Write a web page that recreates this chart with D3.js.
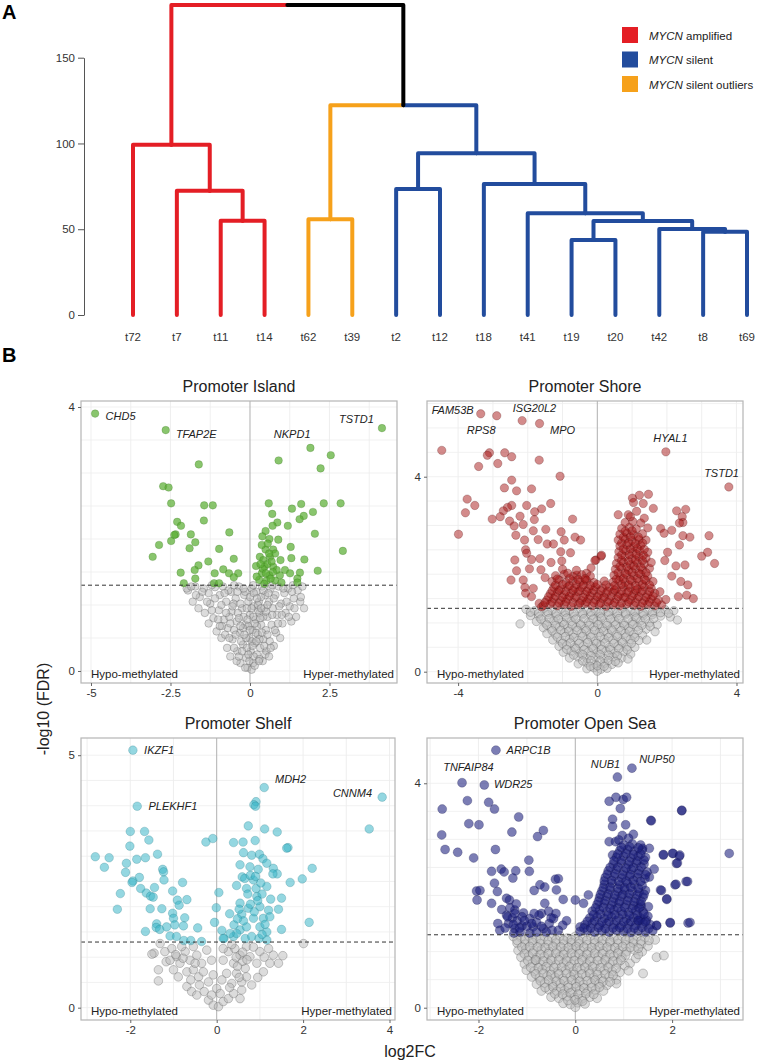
<!DOCTYPE html>
<html><head><meta charset="utf-8">
<script src="https://cdn.jsdelivr.net/npm/d3@7/dist/d3.min.js"></script>
<style>body{margin:0;background:#fff}svg{display:block}text{font-family:Arial,"Liberation Sans",sans-serif}</style>
</head><body><svg id="c" width="758" height="1063"></svg>
<script>
// ---------------- DATA ----------------
const leaves = ["t72","t7","t11","t14","t62","t39","t2","t12","t18","t41","t19","t20","t42","t8","t69"];
const leafGroup = ["amp","amp","amp","amp","out","out","sil","sil","sil","sil","sil","sil","sil","sil","sil"];
// [childA, childB, height]; nodes 0-14 are leaves, merges are numbered from 15
const merges = [[2,3,55.0],[1,15,72.5],[0,16,99.3],[4,5,55.8],[6,7,73.5],[10,11,43.7],[13,14,48.6],[12,21,50.2],[20,22,54.8],[9,23,59.3],[8,24,76.4],[19,25,94.3],[18,26,122.3],[17,27,180.7]];
const dendroTicks = [0,50,100,150];
const legendGroups = ["amp","sil","out"];
const legendLabels = [" amplified"," silent"," silent outliers"];

const panelTitles = ["Promoter Island","Promoter Shore","Promoter Shelf","Promoter Open Sea"];
const xTickVals = [[-5,-2.5,0,2.5],[-4,0,4],[-2,0,2,4],[-2,0,2]];
const yTickVals = [[0,4],[0,4],[0,5],[0,4]];
const fdrCut = 1.30;

const islandSig = [[-4.87,3.90],[-2.65,3.65],[-1.61,3.13],[-2.73,2.80],[-2.56,2.78],[-2.48,2.54],[-1.44,2.51],[-1.17,2.51],[-1.45,2.28],[-2.29,2.26],[-2.17,2.20],[-2.34,2.07],[-2.38,2.06],[-1.86,2.07],[-0.65,2.10],[-2.48,1.97],[-1.72,1.95],[-2.86,1.91],[-1.90,1.86],[-0.97,1.85],[-3.06,1.73],[-1.31,1.66],[-0.51,1.70],[-1.62,1.60],[-1.74,1.53],[-2.18,1.49],[-0.84,1.54],[-1.11,1.48],[-0.66,1.48],[-0.37,1.48],[-0.51,1.42],[-1.72,1.40],[-2.08,1.33],[-1.13,1.33],[-0.97,1.33],
[0.90,3.19],[1.90,3.38],[2.54,3.27],[2.22,3.07],[4.15,3.68],[0.59,2.54],[1.32,2.46],[1.61,2.53],[2.32,2.54],[2.85,2.54],[1.98,2.41],[1.69,2.35],[1.56,2.30],[0.70,2.38],[0.86,2.25],[0.71,2.20],[1.19,2.20],[0.49,2.12],[2.04,2.08],[0.39,2.04],[0.61,2.00],[0.89,1.99],[1.28,1.88],[2.92,1.82],[0.49,1.84],[0.73,1.84],[0.31,1.73],[0.63,1.73],[1.30,1.71],[1.71,1.69],[0.96,1.68],[0.19,1.59],[0.46,1.58],[0.73,1.58],[1.10,1.53],[1.57,1.49],[2.13,1.52],[0.37,1.48],[0.61,1.45],[0.94,1.45],[1.26,1.48],[1.49,1.40],[0.29,1.38],[0.52,1.37],[0.79,1.37],[0.99,1.34],[1.49,1.34],[0.37,1.91],[0.56,1.93],[0.79,1.78],[0.42,1.68],[0.84,1.53],[0.21,1.43],[0.55,1.62],[0.68,1.66],[0.40,1.55],[0.65,1.40],[0.45,1.32],[0.60,1.78],[0.50,1.48],[0.72,1.50],[0.33,1.62]];
const islandGray = [[-1.95,1.22],[-1.72,1.28],[-1.58,1.12],[-1.8,1.05],[-1.45,1.25],[-1.3,1.18],[-1.62,0.95],[-1.42,0.88],[-1.25,1.02],[-1.1,1.27],[-1.15,0.8],[-1.3,0.72],[-0.95,1.15],[-0.98,0.92],[-1.05,0.6],[-0.85,1.28],[-0.82,0.78],[-0.9,0.5],[-0.75,1.05],[-0.7,0.65],[-0.72,0.35],[-0.6,1.2],[-0.58,0.9],[-0.55,0.48],[-0.62,0.22],[-0.45,1.1],[-0.42,0.75],[-0.4,0.3],[-0.35,1.28],[-0.32,0.58],[-0.3,0.12],[-0.25,0.95],[-0.22,0.4],[-0.18,1.15],[-0.15,0.7],[-0.12,0.2],[-0.08,0.05],[-0.05,1.05],[-0.02,0.5],[0.0,0.85],[0.02,0.3],[0.05,1.25],[0.08,0.62],[0.1,0.12],[0.12,0.98],[0.15,0.42],[0.18,0.78],[0.2,1.2],[0.22,0.25],[0.25,0.55],[0.28,1.05],[0.3,0.88],[0.32,0.35],[0.35,0.7],[0.38,1.28],[0.4,0.15],[0.42,0.48],[0.45,0.95],[0.48,1.15],[0.5,0.62],[0.52,0.3],[0.55,0.82],[0.6,1.05],[0.62,0.45],[0.65,1.25],[0.68,0.7],[0.72,0.95],[0.75,0.38],[0.8,1.15],[0.82,0.58],[0.85,0.85],[0.9,1.28],[0.95,0.5],[0.98,1.02],[1.02,0.72],[1.08,1.18],[1.12,0.88],[1.2,1.25],[1.25,0.98],[1.3,0.75],[1.38,1.1],[1.45,0.82],[1.5,1.22],[1.58,1.05],[1.7,0.95],[1.65,1.28],[1.35,1.3],[-1.2,1.3],[-0.5,1.3],[0.1,1.3],[0.7,1.3],[-0.5,0.62],[-0.38,0.88],[-0.28,0.45],[-0.2,0.82],[-0.1,0.35],[-0.05,0.68],[0.05,0.45],[0.12,0.22],[0.18,0.58],[0.25,0.92],[0.3,0.48],[0.35,1.12],[0.42,0.82],[0.48,0.25],[0.55,1.0],[0.6,0.22],[-0.65,0.82],[-0.68,1.22],[-0.78,0.55],[-0.88,0.68],[-1.0,0.78],[-0.52,1.02],[-0.15,1.2],[0.0,1.12],[-0.02,0.15],[0.05,0.02],[-0.15,0.05],[0.15,0.08],[-0.42,0.15],[0.3,0.18],[0.22,0.68],[-0.35,0.22],[-1.99,1.25],[1.6,1.12],[1.4,0.95]];
const islandGray2 = [[-1.5,1.2],[-1.35,1.05],[-1.2,0.92],[-1.1,1.1],[-0.95,0.68],[-0.9,1.0],[-0.8,1.18],[-0.75,0.88],[-0.65,0.5],[-0.62,0.72],[-0.55,0.98],[-0.5,0.35],[-0.45,0.55],[-0.4,1.2],[-0.35,0.8],[-0.3,1.02],[-0.25,0.3],[-0.22,0.65],[-0.2,1.25],[-0.12,0.5],[-0.1,0.95],[-0.05,0.25],[0.0,0.62],[0.05,0.95],[0.08,0.38],[0.12,1.18],[0.15,0.72],[0.2,0.45],[0.25,1.0],[0.28,0.15],[0.32,0.8],[0.38,0.58],[0.42,1.22],[0.45,0.38],[0.5,0.9],[0.55,0.55],[0.58,1.18],[0.65,0.35],[0.7,0.85],[0.75,1.1],[0.78,0.62],[0.88,0.72],[0.92,0.98],[1.0,0.85],[1.05,1.25],[1.15,1.05],[1.22,0.82],[1.32,1.2],[-1.7,1.15],[-1.85,1.28],[-0.18,0.55],[0.1,0.82],[-0.3,0.68],[0.22,1.1],[-0.08,0.78],[0.35,0.95]];
const islandLabels = [["CHD5",-4.54,3.80],["TFAP2E",-2.33,3.53],["NKPD1",0.75,3.53],["TSTD1",2.80,3.76]];

const shoreSig = [[-3.35,5.29],[-2.89,5.25],[-2.16,5.15],[-1.66,5.09],[-4.47,4.54],[-3.10,4.49],[-3.16,4.44],[-2.66,4.49],[-2.46,4.41],[-3.41,4.21],[-2.86,4.27],[-1.67,4.34],[-1.07,4.01],[-2.46,3.93],[-2.67,3.77],[-2.32,3.71],[-1.89,3.75],[-3.74,3.54],[-3.52,3.41],[-3.79,3.26],[-2.46,3.41],[-2.58,3.37],[-2.70,3.30],[-2.03,3.41],[-1.60,3.34],[-1.34,3.45],[-1.80,3.28],[-3.02,3.13],[-2.79,3.18],[-2.52,3.09],[-2.22,3.19],[-0.71,3.13],[-1.81,3.12],[-2.39,2.99],[-2.13,3.02],[-3.99,2.82],[-2.34,2.80],[-1.84,2.89],[-1.48,2.92],[-1.04,2.87],[-2.09,2.70],[-1.70,2.71],[-1.44,2.62],[-0.64,2.76],[-0.48,2.70],[-0.95,2.70],[-1.26,2.62],[-2.06,2.50],[-2.03,2.43],[-1.05,2.46],[-0.77,2.44],[0.11,2.37],[-0.04,2.29],[-2.37,2.29],[-1.89,2.30],[-1.65,2.32],[-1.33,2.24],[-1.02,2.27],[-2.32,2.07],[-1.95,2.11],[-1.62,2.09],[-1.50,1.93],[-2.48,1.88],[-2.13,1.88],[-2.08,1.73],[-2.06,1.61],[-1.84,1.71],[-1.89,1.54],[-1.67,1.40],[-1.60,1.33],[-0.31,2.02],[-0.18,2.13],[-0.35,1.88],[-0.59,1.98],
[1.97,4.51],[3.78,3.79],[1.01,3.56],[1.21,3.62],[1.47,3.64],[1.32,3.45],[1.04,3.47],[0.60,3.22],[0.89,3.22],[1.13,3.29],[1.61,3.35],[2.28,3.30],[2.54,3.33],[2.44,3.18],[2.46,3.06],[2.36,3.05],[2.14,2.90],[1.82,2.94],[1.92,2.84],[2.66,2.76],[2.46,2.79],[3.21,2.79],[2.36,2.60],[2.02,2.45],[3.00,2.37],[3.17,2.45],[3.37,2.22],[-0.07,2.28],[0.12,2.39],[1.94,2.28],[2.26,2.17],[2.14,1.96],[2.52,2.19],[2.40,1.85],[2.60,1.78],[2.33,1.54],[2.57,1.57],[2.76,1.50],[1.97,1.48],[1.80,1.64]];
const shoreDense = [[-1.55,1.36],[-1.35,1.39],[-1.15,1.35],[-0.95,1.38],[-0.75,1.34],[-0.55,1.37],[-0.35,1.40],[-0.15,1.35],[0.05,1.38],[0.25,1.34],[0.45,1.37],[0.65,1.35],[0.85,1.39],[1.05,1.36],[1.25,1.34],[1.45,1.38],[1.65,1.35],[1.85,1.37],
[-1.45,1.47],[-1.25,1.5],[-1.05,1.46],[-0.85,1.49],[-0.65,1.51],[-0.45,1.46],[-0.25,1.49],[-0.05,1.47],[0.15,1.5],[0.35,1.46],[0.55,1.49],[0.75,1.52],[0.95,1.47],[1.15,1.5],[1.35,1.46],[1.55,1.49],[1.75,1.47],
[-1.35,1.6],[-1.15,1.63],[-0.95,1.58],[-0.75,1.61],[-0.55,1.64],[-0.35,1.59],[-0.15,1.62],[0.05,1.58],[0.25,1.61],[0.45,1.63],[0.65,1.59],[0.85,1.62],[1.05,1.6],[1.25,1.63],[1.45,1.58],[1.65,1.61],
[-1.25,1.73],[-1.05,1.7],[-0.85,1.74],[-0.65,1.71],[-0.45,1.73],[-0.25,1.7],[-0.05,1.74],[0.15,1.71],[0.35,1.73],[0.55,1.7],[0.75,1.74],[0.95,1.72],[1.15,1.7],[1.35,1.74],[1.55,1.71],
[-1.3,1.85],[-1.1,1.88],[-0.9,1.83],[-0.7,1.86],[-0.5,1.84],[-0.3,1.87],[-0.1,1.83],[0.2,1.86],[0.45,1.84],[0.62,1.87],[0.8,1.83],[1.0,1.86],[1.2,1.84],[1.4,1.87],[1.6,1.85],
[-1.2,1.97],[-0.95,2.0],[-0.7,1.96],[-0.45,1.99],[-0.2,1.96],[0.48,1.98],[0.66,1.95],[0.85,1.99],[1.05,1.97],[1.25,2.0],[1.45,1.96],
[-1.0,2.1],[-0.6,2.08],[0.52,2.1],[0.7,2.12],[0.9,2.08],[1.1,2.11],[1.3,2.09],[1.5,2.12],
[0.55,2.22],[0.75,2.24],[0.95,2.2],[1.15,2.23],[1.35,2.21],[1.55,2.24],
[0.6,2.34],[0.8,2.36],[1.0,2.32],[1.2,2.35],[1.4,2.33],
[0.62,2.46],[0.82,2.48],[1.02,2.45],[1.22,2.47],[1.45,2.45],
[0.65,2.58],[0.85,2.6],[1.05,2.57],[1.25,2.59],
[0.6,2.7],[0.8,2.72],[1.0,2.69],[1.2,2.71],[1.4,2.7],
[0.65,2.82],[0.85,2.84],[1.05,2.81],[1.3,2.83],
[0.7,2.94],[0.92,2.96],[1.12,2.93],[1.45,2.95],
[0.8,3.06],[1.02,3.08],[1.25,3.05],[0.95,3.18],[1.35,3.15],
[-1.5,1.42],[-1.3,1.43],[-1.1,1.41],[-0.9,1.43],[-0.7,1.42],[-0.5,1.41],[-0.3,1.43],[-0.1,1.42],[0.1,1.41],[0.3,1.43],[0.5,1.42],[0.7,1.41],[0.9,1.43],[1.1,1.42],[1.3,1.41],[1.5,1.43],[1.7,1.42],
[-1.4,1.54],[-1.2,1.55],[-1.0,1.53],[-0.8,1.55],[-0.6,1.54],[-0.4,1.53],[-0.2,1.55],[0.0,1.54],[0.2,1.53],[0.4,1.55],[0.6,1.54],[0.8,1.53],[1.0,1.55],[1.2,1.54],[1.4,1.53],[1.6,1.55],
[-1.3,1.66],[-1.1,1.67],[-0.9,1.65],[-0.7,1.67],[-0.5,1.66],[-0.3,1.65],[-0.1,1.67],[0.1,1.66],[0.3,1.65],[0.5,1.67],[0.7,1.66],[0.9,1.65],[1.1,1.67],[1.3,1.66],[1.5,1.65],
[-1.2,1.78],[-1.0,1.79],[-0.8,1.77],[-0.6,1.79],[-0.4,1.78],[-0.2,1.77],[0.0,1.79],[0.25,1.78],[0.5,1.77],[0.7,1.79],[0.9,1.78],[1.1,1.77],[1.3,1.79],[1.5,1.78],
[-1.15,1.9],[-0.8,1.91],[-0.55,1.89],[-0.35,1.91],[0.55,1.9],[0.75,1.91],[0.95,1.89],[1.15,1.91],[1.35,1.9],
[-0.85,2.02],[0.6,2.03],[0.8,2.02],[1.0,2.04],[1.2,2.02],[1.4,2.03],
[0.65,2.16],[0.85,2.15],[1.05,2.17],[1.25,2.15],[0.7,2.28],[0.9,2.27],[1.1,2.29],[1.3,2.28],[0.7,2.4],[0.92,2.4],[1.12,2.41],[1.32,2.39],[0.75,2.52],[0.95,2.52],[1.15,2.53],[1.35,2.51],[0.7,2.64],[0.9,2.65],[1.1,2.63],[1.3,2.64],[0.75,2.76],[0.95,2.77],[1.18,2.76],[0.8,2.88],[1.0,2.89]];
const shoreGray = [[-2.05,1.28],[-1.8,1.25],[-1.55,1.29],[-1.3,1.26],[-1.05,1.28],[-0.8,1.25],[-0.55,1.29],[-0.3,1.27],[-0.05,1.25],[0.2,1.28],[0.45,1.26],[0.7,1.29],[0.95,1.25],[1.2,1.28],[1.45,1.26],[1.7,1.29],[1.95,1.27],[2.2,1.25],
[-1.92,1.15],[-1.68,1.13],[-1.42,1.17],[-1.18,1.14],[-0.92,1.16],[-0.68,1.13],[-0.42,1.17],[-0.18,1.15],[0.08,1.13],[0.32,1.16],[0.58,1.14],[0.82,1.17],[1.08,1.13],[1.32,1.15],[1.58,1.17],[1.82,1.14],[2.1,1.12],
[-2.22,0.98],[-1.75,1.03],[-1.5,1.0],[-1.25,1.04],[-1.0,1.01],[-0.75,1.03],[-0.5,0.99],[-0.25,1.02],[0.0,1.04],[0.25,1.0],[0.5,1.03],[0.75,0.99],[1.0,1.02],[1.25,1.04],[1.5,1.0],[1.72,0.96],[2.3,1.06],
[-1.55,0.9],[-1.32,0.88],[-1.08,0.92],[-0.85,0.89],[-0.6,0.91],[-0.35,0.88],[-0.1,0.92],[0.15,0.9],[0.4,0.88],[0.65,0.91],[0.9,0.89],[1.15,0.92],[1.4,0.87],[1.66,0.82],
[-1.45,0.78],[-1.2,0.76],[-0.95,0.8],[-0.7,0.77],[-0.45,0.79],[-0.2,0.76],[0.05,0.8],[0.3,0.78],[0.55,0.76],[0.8,0.79],[1.05,0.77],[1.3,0.75],
[-1.28,0.65],[-1.05,0.63],[-0.8,0.67],[-0.55,0.64],[-0.3,0.66],[-0.05,0.63],[0.2,0.67],[0.45,0.65],[0.7,0.63],[0.95,0.66],[1.2,0.64],[1.42,0.65],
[-1.1,0.52],[-0.88,0.54],[-0.65,0.5],[-0.4,0.53],[-0.15,0.51],[0.1,0.54],[0.35,0.5],[0.6,0.53],[0.85,0.51],[1.08,0.5],
[-0.98,0.4],[-0.75,0.42],[-0.5,0.38],[-0.25,0.41],[0.0,0.39],[0.25,0.42],[0.5,0.38],[0.75,0.41],[0.96,0.36],
[-0.8,0.28],[-0.55,0.3],[-0.3,0.27],[-0.05,0.29],[0.2,0.27],[0.45,0.3],[0.7,0.28],[0.88,0.26],
[-0.55,0.16],[-0.3,0.18],[-0.05,0.15],[0.2,0.17],[0.42,0.15],[0.6,0.18],
[-0.3,0.06],[-0.1,0.08],[0.1,0.05],[0.28,0.07],[0.0,0.01]];
const shoreGray2 = [[-1.92,1.22],[-1.68,1.2],[-1.42,1.22],[-1.18,1.2],[-0.92,1.22],[-0.68,1.21],[-0.42,1.2],[-0.18,1.22],[0.08,1.2],[0.32,1.22],[0.58,1.21],[0.82,1.2],[1.08,1.22],[1.32,1.2],[1.58,1.22],[1.82,1.21],[2.05,1.2],
[-1.62,1.08],[-1.38,1.09],[-1.12,1.08],[-0.88,1.1],[-0.62,1.08],[-0.38,1.09],[-0.12,1.08],[0.12,1.1],[0.38,1.08],[0.62,1.09],[0.88,1.08],[1.12,1.1],[1.38,1.08],[1.62,1.09],
[-1.45,0.96],[-1.2,0.95],[-0.95,0.97],[-0.72,0.95],[-0.48,0.96],[-0.22,0.95],[0.02,0.97],[0.28,0.95],[0.52,0.96],[0.78,0.95],[1.02,0.97],[1.28,0.95],[1.52,0.93],
[-1.3,0.84],[-1.05,0.85],[-0.82,0.83],[-0.58,0.85],[-0.32,0.84],[-0.08,0.85],[0.18,0.83],[0.42,0.85],[0.68,0.84],[0.92,0.83],[1.18,0.85],
[-1.15,0.71],[-0.92,0.72],[-0.68,0.7],[-0.42,0.72],[-0.18,0.71],[0.08,0.72],[0.32,0.7],[0.58,0.72],[0.82,0.71],[1.08,0.7],
[-1.0,0.58],[-0.78,0.59],[-0.52,0.58],[-0.28,0.6],[-0.02,0.58],[0.22,0.59],[0.48,0.58],[0.72,0.6],[0.98,0.58],
[-0.88,0.46],[-0.62,0.47],[-0.38,0.45],[-0.12,0.47],[0.12,0.46],[0.38,0.45],[0.62,0.47],[0.86,0.45],
[-0.68,0.34],[-0.42,0.35],[-0.18,0.33],[0.08,0.35],[0.32,0.34],[0.58,0.33],
[-0.42,0.22],[-0.18,0.23],[0.08,0.22],[0.32,0.23],[0.52,0.21],
[-0.2,0.11],[0.0,0.12],[0.2,0.11]];
const shoreLabels = [["FAM53B",-4.76,5.29],["ISG20L2",-2.43,5.33],["RPS8",-3.75,4.88],["MPO",-1.36,4.88],["HYAL1",1.61,4.72],["TSTD1",3.07,4.00]];

const shelfSig = [[-1.94,5.10],[-1.84,3.99],[1.10,4.36],[0.91,4.08],[0.86,4.02],[0.90,3.99],[3.83,4.17],[3.53,3.54],[0.73,3.60],[1.11,3.54],[1.40,3.48],[-2.00,3.49],[-1.67,3.49],[-1.57,3.32],[-2.01,3.20],[-2.81,2.99],[-2.49,2.97],[-2.60,2.78],[-2.09,2.86],[-1.85,2.94],[-1.65,2.97],[-1.37,3.04],[-2.11,2.68],[-1.94,2.51],[-1.79,2.58],[-1.96,2.48],[-1.25,2.74],[-1.23,2.69],[-1.22,2.53],[-1.76,2.36],[-1.44,2.38],[-0.79,2.48],[-2.23,2.26],[-1.63,2.27],[-1.53,2.21],[-1.47,2.19],[-2.30,1.95],[-1.54,1.96],[-1.27,1.96],[-1.02,2.31],[-0.91,2.13],[-0.69,2.14],[-0.87,2.03],[-1.02,1.87],[-1.00,1.77],[-0.74,1.78],[-0.97,1.64],[-0.77,1.62],[-0.44,1.58],[-1.39,1.66],[-1.40,1.59],[-1.65,1.51],[-1.16,1.60],[-1.32,1.55],[-1.08,1.42],[-0.93,1.41],[-0.76,1.33],[-0.60,1.33],[-0.35,1.31],[-0.25,3.28],[-0.09,3.35],[0.05,2.28],[-0.01,1.98],[-0.05,1.69],[0.12,1.53],[0.17,1.37],
[0.39,3.27],[0.61,3.28],[0.89,3.31],[0.62,3.07],[0.81,3.02],[0.99,3.04],[1.07,2.95],[1.16,2.86],[0.54,2.83],[0.77,2.79],[0.96,2.74],[1.31,2.76],[1.40,2.65],[1.30,2.65],[0.59,2.59],[0.65,2.56],[0.85,2.53],[1.70,2.48],[1.98,2.55],[2.21,2.76],[1.65,3.17],[1.62,3.16],[0.46,2.42],[0.69,2.36],[0.91,2.36],[1.16,2.40],[0.72,2.25],[0.93,2.20],[1.05,2.25],[1.25,2.15],[1.50,2.17],[0.54,2.07],[0.73,1.97],[1.00,2.00],[1.20,1.93],[1.43,1.95],[0.30,1.86],[0.58,1.85],[0.85,1.77],[1.08,1.77],[1.23,1.80],[2.14,1.69],[0.40,1.64],[0.54,1.54],[0.69,1.60],[1.00,1.60],[1.16,1.50],[1.50,1.55],[0.15,1.37],[0.39,1.41],[0.46,1.47],[0.66,1.37],[0.81,1.41],[0.98,1.37],[1.16,1.34],[0.31,1.47],[0.78,2.62],[1.02,2.47],[0.87,1.90],[0.62,1.72],[1.12,1.65],[0.52,1.95],[0.95,2.12],[0.78,2.05],[0.48,1.76],[1.05,1.45],[0.9,2.6]];
const shelfGray = [[-1.31,1.27],[-1.45,1.08],[-1.50,1.06],[-1.17,0.91],[-1.35,0.53],[-1.04,1.17],[-0.93,1.01],[-0.85,0.88],[-0.73,1.11],[-0.62,0.94],[-0.54,1.21],[-0.46,1.04],[-0.35,0.88],[-1.0,0.75],[-0.89,0.61],[-0.69,0.71],[-0.54,0.75],[-0.42,0.61],[-0.69,0.42],[-0.58,0.32],[-0.46,0.25],[-0.29,0.32],[-0.19,0.15],[-0.08,0.05],[0.04,0.02],[0.15,0.12],[0.27,0.18],[0.39,0.28],[0.54,0.18],[0.58,0.35],[0.0,0.38],[0.12,0.55],[0.23,0.68],[0.15,0.94],[0.27,1.11],[0.15,1.17],[0.39,0.88],[0.46,0.68],[0.58,0.51],[0.66,0.78],[0.77,1.01],[0.69,1.21],[0.93,0.88],[1.0,1.11],[1.08,0.71],[1.2,1.17],[1.31,1.04],[1.53,1.03],[1.43,0.88],[1.23,0.88],[2.01,1.27],[0.42,1.17],[0.54,1.04],[0.35,0.48],[0.69,0.61],[0.81,0.45],[-0.23,1.14],[-0.12,0.94],[-0.31,0.71],[-0.19,0.51],[-0.08,0.65],[-0.81,1.21],[-1.2,1.11],[-1.08,0.94],[-1.35,0.75],[0.3,0.4],[0.48,0.82],[0.6,0.92],[0.85,1.2],[0.95,0.6],[-0.12,0.25],[0.08,0.28],[-0.6,0.55],[-0.78,0.98],[0.35,1.25],[0.6,1.1],[1.1,1.0],[-0.4,0.45],[0.45,1.0],[0.52,0.6],[0.7,0.95],[-0.5,0.88],[-0.95,1.05]];
const shelfLabels = [["IKZF1",-1.68,5.02],["PLEKHF1",-1.58,3.91],["MDH2",1.35,4.44],["CNNM4",2.69,4.17]];

const seaSig = [[-1.64,4.59],[-2.34,4.01],[-1.88,3.97],[0.87,4.11],[1.17,4.27],[-2.23,3.69],[-2.75,3.54],[-1.79,3.66],[-1.67,3.54],[-1.17,3.40],[-2.20,3.28],[-1.99,3.26],[-2.76,3.08],[-1.31,3.13],[-0.66,3.16],[-0.78,3.05],[-2.69,2.82],[-2.43,2.77],[-2.10,2.67],[-1.65,2.82],[-0.96,2.63],[-1.73,2.43],[-1.53,2.47],[-1.47,2.42],[-1.23,2.44],[-0.95,2.43],[-1.29,2.31],[-1.67,2.22],[-2.04,2.08],[-1.97,2.09],[-2.03,1.92],[-1.61,2.07],[-1.73,1.86],[-1.42,1.95],[-1.36,1.92],[-0.85,2.09],[-0.73,2.19],[-0.63,2.15],[-0.39,2.10],[-0.41,2.29],[-0.35,2.30],[-0.25,1.93],[0.00,1.92],[-0.63,1.86],[-0.70,1.68],[-0.45,1.59],[-0.18,1.55],[-0.26,1.47],[-1.52,1.75],[-1.42,1.65],[-1.25,1.74],[-1.07,1.69],[-0.94,1.59],[-1.38,1.50],[-1.25,1.41],[-1.10,1.46],[-0.87,1.44],[-0.66,1.41],[-0.54,1.50],[-0.48,1.38],[-1.27,1.33],[-1.14,1.35],[-0.94,1.33],[-0.80,1.35],[-1.56,1.38],[0.10,1.44],[0.17,1.86],[0.27,2.01],
[-1.3,1.6],[-1.2,1.55],[-1.1,1.62],[-1.0,1.45],[-0.8,1.52],[-0.75,1.65],[-1.35,1.78],[-1.22,1.85],[-0.55,1.72],[-0.4,1.68],[-0.6,1.35],[-0.35,1.38],[-1.6,1.5],
[-1.45,1.42],[-1.28,1.48],[-1.15,1.42],[-0.9,1.5],[-0.7,1.45],[-0.5,1.6],[-1.05,1.55],[-0.85,1.68],[-1.4,1.62],[-1.25,1.68],
[0.70,3.68],[0.84,3.75],[0.99,3.71],[1.06,3.75],[0.93,3.55],[2.20,3.51],[0.77,3.36],[0.77,3.23],[1.04,3.26],[1.56,3.34],[0.97,3.07],[1.20,3.09],[0.70,2.96],[0.83,2.96],[0.90,2.99],[1.10,3.02],[0.77,2.72],[1.39,2.84],[1.53,2.84],[1.82,2.72],[2.02,2.75],[2.15,2.70],[2.09,2.57],[2.29,2.25],[2.06,2.19],[1.76,2.10],[1.89,1.94],[1.53,2.33],[1.63,2.47],[1.36,1.81],[1.51,1.80],[1.34,1.56],[1.68,1.47],[1.96,1.51],[2.33,1.51],[3.18,2.75],[1.82,2.73],[2.01,2.75],[2.16,2.72],[2.11,2.58],[2.32,2.25],[2.08,2.20],[1.78,2.09],[1.89,1.93],[2.37,1.52],[1.96,1.52],[1.68,1.46],[2.20,3.52],[1.57,3.33],[1.30,1.56],[1.47,1.56]];
const seaDense = [[0.1,1.36],[0.25,1.38],[0.4,1.35],[0.55,1.37],[0.7,1.35],[0.85,1.38],[1.0,1.36],[1.15,1.34],[1.3,1.37],[1.45,1.35],[1.6,1.37],
[0.2,1.48],[0.35,1.5],[0.5,1.47],[0.65,1.5],[0.8,1.48],[0.95,1.46],[1.1,1.49],[1.25,1.47],[1.4,1.5],[1.55,1.48],
[0.3,1.6],[0.45,1.62],[0.6,1.59],[0.75,1.62],[0.9,1.6],[1.05,1.58],[1.2,1.61],[1.35,1.6],[1.5,1.63],
[0.35,1.72],[0.5,1.74],[0.65,1.71],[0.8,1.74],[0.95,1.72],[1.1,1.7],[1.25,1.73],[1.4,1.71],
[0.45,1.84],[0.6,1.86],[0.75,1.83],[0.9,1.86],[1.05,1.84],[1.2,1.82],[1.35,1.85],
[0.5,1.96],[0.65,1.98],[0.8,1.95],[0.95,1.98],[1.1,1.96],[1.25,1.94],[1.4,1.97],
[0.55,2.08],[0.72,2.1],[0.88,2.07],[1.02,2.1],[1.18,2.08],[1.32,2.06],[1.45,2.09],
[0.6,2.2],[0.76,2.22],[0.92,2.19],[1.08,2.22],[1.22,2.2],[1.38,2.18],
[0.62,2.32],[0.8,2.34],[0.96,2.31],[1.12,2.34],[1.28,2.32],[1.44,2.3],
[0.68,2.44],[0.85,2.46],[1.0,2.43],[1.16,2.46],[1.32,2.44],[1.48,2.42],
[0.78,2.56],[0.95,2.58],[1.1,2.55],[1.26,2.58],[1.42,2.56],
[0.85,2.68],[1.0,2.7],[1.15,2.67],[1.3,2.7],[1.45,2.68],
[0.92,2.8],[1.08,2.82],[1.22,2.79],[1.38,2.81],
[1.0,2.9],[1.18,2.92],[1.35,2.9],
[0.18,1.42],[0.32,1.42],[0.48,1.43],[0.62,1.41],[0.78,1.42],[0.92,1.43],[1.08,1.41],[1.22,1.42],[1.38,1.43],[1.52,1.41],
[0.25,1.54],[0.4,1.55],[0.55,1.53],[0.7,1.54],[0.85,1.55],[1.0,1.53],[1.15,1.54],[1.3,1.55],[1.45,1.53],
[0.38,1.66],[0.52,1.67],[0.68,1.65],[0.82,1.66],[0.98,1.67],[1.12,1.65],[1.28,1.66],[1.42,1.67],
[0.42,1.78],[0.58,1.79],[0.72,1.77],[0.88,1.78],[1.02,1.79],[1.18,1.77],[1.32,1.78],
[0.48,1.9],[0.62,1.91],[0.78,1.89],[0.92,1.9],[1.08,1.91],[1.22,1.89],[1.36,1.9],
[0.52,2.02],[0.68,2.03],[0.82,2.01],[0.98,2.02],[1.12,2.03],[1.28,2.01],[1.42,2.02],
[0.58,2.14],[0.72,2.15],[0.88,2.13],[1.02,2.14],[1.15,2.15],[1.3,2.13],
[0.6,2.26],[0.75,2.27],[0.9,2.25],[1.05,2.26],[1.2,2.27],[1.35,2.25],
[0.66,2.38],[0.82,2.39],[0.98,2.37],[1.14,2.38],[1.3,2.39],[1.45,2.37],
[0.72,2.5],[0.88,2.51],[1.05,2.49],[1.2,2.5],[1.36,2.51],
[0.8,2.62],[0.95,2.63],[1.12,2.61],[1.28,2.62],[1.42,2.63],
[0.88,2.74],[1.05,2.75],[1.2,2.73],[1.35,2.74],
[0.95,2.86],[1.12,2.87],[1.3,2.85]];
const seaGray = [[-1.28,1.27],[-1.12,1.25],[-0.96,1.28],[-0.8,1.24],[-0.64,1.27],[-0.48,1.25],[-0.32,1.28],[-0.16,1.24],[0.0,1.27],[0.16,1.25],[0.32,1.28],[0.48,1.24],[0.64,1.27],[0.8,1.25],[0.96,1.28],[1.12,1.24],[1.28,1.27],[1.44,1.25],[1.65,1.21],
[-1.2,1.15],[-1.04,1.13],[-0.88,1.16],[-0.72,1.14],[-0.56,1.12],[-0.4,1.15],[-0.24,1.13],[-0.08,1.16],[0.08,1.14],[0.24,1.12],[0.4,1.15],[0.56,1.13],[0.72,1.16],[0.88,1.14],[1.04,1.12],[1.2,1.15],[1.36,1.13],
[-1.18,1.02],[-1.02,1.04],[-0.86,1.01],[-0.7,1.03],[-0.54,1.0],[-0.38,1.03],[-0.22,1.01],[-0.06,1.04],[0.1,1.02],[0.26,1.0],[0.42,1.03],[0.58,1.01],[0.74,1.04],[0.9,1.02],[1.06,1.0],[1.22,1.03],[1.38,1.0],
[-1.12,0.9],[-0.96,0.92],[-0.8,0.89],[-0.64,0.91],[-0.48,0.88],[-0.32,0.91],[-0.16,0.89],[0.0,0.92],[0.16,0.9],[0.32,0.88],[0.48,0.91],[0.64,0.89],[0.8,0.92],[0.96,0.9],[1.13,0.79],[1.25,0.88],[1.68,0.9],[1.83,0.93],
[-1.05,0.78],[-0.88,0.8],[-0.72,0.77],[-0.56,0.79],[-0.4,0.76],[-0.24,0.79],[-0.08,0.77],[0.08,0.8],[0.24,0.78],[0.4,0.76],[0.56,0.79],[0.72,0.77],[0.88,0.8],[1.02,0.75],
[-1.01,0.67],[-0.85,0.65],[-0.68,0.68],[-0.52,0.66],[-0.36,0.64],[-0.2,0.67],[-0.04,0.65],[0.12,0.68],[0.28,0.66],[0.44,0.64],[0.6,0.67],[0.76,0.65],[0.92,0.63],[1.4,0.61],[1.1,0.66],
[-0.9,0.55],[-0.74,0.53],[-0.58,0.56],[-0.42,0.54],[-0.26,0.52],[-0.1,0.55],[0.06,0.53],[0.22,0.56],[0.38,0.54],[0.54,0.52],[0.7,0.55],[0.85,0.5],
[-0.8,0.42],[-0.63,0.44],[-0.47,0.41],[-0.31,0.43],[-0.15,0.4],[0.01,0.43],[0.17,0.41],[0.33,0.44],[0.49,0.42],[0.65,0.4],[0.85,0.43],
[-0.7,0.3],[-0.54,0.32],[-0.38,0.29],[-0.22,0.31],[-0.06,0.28],[0.1,0.31],[0.26,0.29],[0.42,0.32],[0.58,0.3],
[-0.5,0.19],[-0.34,0.17],[-0.18,0.2],[-0.02,0.18],[0.14,0.16],[0.3,0.19],[0.45,0.17],
[-0.25,0.08],[-0.1,0.06],[0.05,0.09],[0.2,0.07],[0.0,0.01],[-0.82,0.85],[1.5,1.1],[1.3,0.95]];
const seaGray2 = [[-1.2,1.2],[-1.04,1.21],[-0.88,1.2],[-0.72,1.21],[-0.56,1.19],[-0.4,1.21],[-0.24,1.2],[-0.08,1.21],[0.08,1.19],[0.24,1.2],[0.4,1.21],[0.56,1.2],[0.72,1.19],[0.88,1.21],[1.04,1.2],[1.2,1.21],[1.36,1.19],[1.52,1.2],
[-1.1,1.08],[-0.94,1.09],[-0.78,1.08],[-0.62,1.07],[-0.46,1.09],[-0.3,1.08],[-0.14,1.07],[0.02,1.09],[0.18,1.08],[0.34,1.07],[0.5,1.09],[0.66,1.08],[0.82,1.07],[0.98,1.09],[1.14,1.08],[1.3,1.06],
[-1.05,0.96],[-0.88,0.97],[-0.72,0.95],[-0.56,0.96],[-0.4,0.97],[-0.24,0.95],[-0.08,0.97],[0.08,0.96],[0.24,0.95],[0.4,0.97],[0.56,0.96],[0.72,0.95],[0.88,0.97],[1.04,0.94],
[-0.98,0.84],[-0.82,0.85],[-0.66,0.83],[-0.5,0.84],[-0.34,0.85],[-0.18,0.83],[-0.02,0.84],[0.14,0.85],[0.3,0.83],[0.46,0.84],[0.62,0.85],[0.78,0.83],[0.94,0.85],
[-0.92,0.72],[-0.76,0.71],[-0.6,0.73],[-0.44,0.71],[-0.28,0.72],[-0.12,0.73],[0.04,0.71],[0.2,0.72],[0.36,0.73],[0.52,0.71],[0.68,0.72],[0.84,0.7],
[-0.82,0.6],[-0.66,0.61],[-0.5,0.59],[-0.34,0.6],[-0.18,0.61],[-0.02,0.59],[0.14,0.6],[0.3,0.61],[0.46,0.59],[0.62,0.6],[0.78,0.58],
[-0.72,0.48],[-0.55,0.49],[-0.39,0.47],[-0.23,0.48],[-0.07,0.49],[0.09,0.47],[0.25,0.48],[0.41,0.49],[0.57,0.47],[0.72,0.46],
[-0.62,0.36],[-0.46,0.37],[-0.3,0.35],[-0.14,0.36],[0.02,0.37],[0.18,0.35],[0.34,0.36],[0.5,0.37],
[-0.42,0.25],[-0.26,0.24],[-0.1,0.26],[0.06,0.24],[0.22,0.25],[0.38,0.24],
[-0.15,0.13],[0.0,0.14],[0.15,0.12]];
const seaLabels = [["ARPC1B",-1.42,4.53],["TNFAIP84",-2.73,4.22],["WDR25",-1.68,3.91],["NUB1",0.32,4.27],["NUP50",1.32,4.37]];

// ---------------- STYLE / LAYOUT ----------------
const groupColor = {amp:"#e41e25", sil:"#224c9d", out:"#f6a11b", mix:"#000000"};
const FONT = "Arial,'Liberation Sans',sans-serif";
const svg = d3.select("#c");

svg.append("text").attr("x",2).attr("y",19).attr("font-size",20).attr("font-weight","bold").text("A");
svg.append("text").attr("x",2).attr("y",362).attr("font-size",20).attr("font-weight","bold").text("B");

// ---------------- DENDROGRAM ----------------
const dx = d3.scalePoint().domain(leaves).range([133,747]);
const dy = d3.scaleLinear().domain([0,150]).range([315,57.7]);
const nodes = leaves.map((l,i)=>({x:dx(l), h:0, g:leafGroup[i]}));
merges.forEach(m=>{
  const a=nodes[m[0]], b=nodes[m[1]];
  nodes.push({x:(a.x+b.x)/2, h:m[2], g:(a.g===b.g?a.g:"mix"), a:m[0], b:m[1]});
});
const dg = svg.append("g");
nodes.forEach(n=>{
  if(n.a===undefined) return;
  [n.a,n.b].forEach(ci=>{
    const c = nodes[ci];
    dg.append("path")
      .attr("d",`M${c.x},${dy(c.h)}V${dy(n.h)}H${n.x}`)
      .attr("fill","none").attr("stroke",groupColor[c.g])
      .attr("stroke-width",4).attr("stroke-linecap","round").attr("stroke-linejoin","round");
  });
});
const dax = svg.append("g").attr("transform","translate(84,0)").attr("color","#444")
  .call(d3.axisLeft(dy).tickValues(dendroTicks).tickSize(6).tickSizeOuter(0).tickPadding(3));
dax.selectAll("path,line").attr("stroke","#555");
dax.selectAll("text").attr("font-size",11.5).attr("fill","#333").attr("font-family",FONT);
svg.append("g").selectAll("text").data(leaves).join("text")
  .attr("x",d=>dx(d)).attr("y",341).attr("text-anchor","middle")
  .attr("font-size",11.5).attr("fill","#333").text(d=>d);
// legend
const lg = svg.append("g");
legendGroups.forEach((gk,i)=>{
  const yy = 27 + i*24.5;
  lg.append("rect").attr("x",622).attr("y",yy).attr("width",16).attr("height",16).attr("fill",groupColor[gk]);
  const t = lg.append("text").attr("x",649).attr("y",yy+12.5).attr("font-size",11.5).attr("fill","#222");
  t.append("tspan").attr("font-style","italic").text("MYCN");
  t.append("tspan").text(legendLabels[i]);
});

// ---------------- VOLCANO PANELS ----------------
const panels = [
  {title:panelTitles[0], box:[81,401,397,683], xd:[-5.314,4.623], yd:[-0.182,4.091], xg:[-5,-3.75,-2.5,-1.25,1.25,2.5,3.75], sig:islandSig, gray:islandGray.concat(islandGray2), labels:islandLabels, xt:xTickVals[0], yt:yTickVals[0], fill:"#5cae34", stroke:"#2f6a15", fo:0.72, r:3.8},
  {title:panelTitles[1], box:[427,401,743,683], xd:[-4.894,4.187], yd:[-0.232,5.553], xg:[-4,-3,-2,-1,1,2,3,4], sig:shoreSig.concat(shoreDense), gray:shoreGray.concat(shoreGray2), labels:shoreLabels, xt:xTickVals[1], yt:yTickVals[1], fill:"#a81818", stroke:"#4a0505", fo:0.5, r:4.2},
  {title:panelTitles[2], box:[81,738,395,1020], xd:[-3.141,4.127], yd:[-0.244,5.341], xg:[-3,-2,-1,1,2,3,4], sig:shelfSig, gray:shelfGray, labels:shelfLabels, xt:xTickVals[2], yt:yTickVals[2], fill:"#3db6c8", stroke:"#1b6f7c", fo:0.55, r:4.3},
  {title:panelTitles[3], box:[427,738,743,1020], xd:[-3.064,3.465], yd:[-0.219,4.807], xg:[-3,-2,-1,1,2,3], sig:seaSig.concat(seaDense), gray:seaGray.concat(seaGray2), labels:seaLabels, xt:xTickVals[3], yt:yTickVals[3], fill:"#1c1f7e", stroke:"#0b0c40", fo:0.58, r:4.5}
];

panels.forEach((p,pi)=>{
  const [L,T,R,B] = p.box;
  const x = d3.scaleLinear().domain(p.xd).range([L,R]);
  const y = d3.scaleLinear().domain(p.yd).range([B,T]);
  const g = svg.append("g");
  const cid = "clip"+pi;
  g.append("clipPath").attr("id",cid).append("rect").attr("x",L).attr("y",T).attr("width",R-L).attr("height",B-T);
  g.append("g").selectAll("line").data(p.xg).join("line")
    .attr("x1",d=>x(d)).attr("x2",d=>x(d)).attr("y1",T).attr("y2",B)
    .attr("stroke","#ebebeb").attr("stroke-width",0.8);
  const yg = d3.range(0, p.yd[1], 0.5);
  g.append("g").selectAll("line").data(yg).join("line")
    .attr("x1",L).attr("x2",R).attr("y1",d=>y(d)).attr("y2",d=>y(d))
    .attr("stroke","#ededed").attr("stroke-width",0.8);
  g.append("line").attr("x1",x(0)).attr("x2",x(0)).attr("y1",T).attr("y2",B)
    .attr("stroke","#b0b0b0").attr("stroke-width",1);
  const pts = g.append("g").attr("clip-path",`url(#${cid})`);
  pts.selectAll("circle.gr").data(p.gray).join("circle").attr("class","gr")
    .attr("cx",d=>x(d[0])).attr("cy",d=>y(d[1])).attr("r",p.r)
    .attr("fill","#bababa").attr("fill-opacity",0.5)
    .attr("stroke","#4d4d4d").attr("stroke-opacity",0.5).attr("stroke-width",0.6);
  pts.selectAll("circle.sg").data(p.sig).join("circle").attr("class","sg")
    .attr("cx",d=>x(d[0])).attr("cy",d=>y(d[1])).attr("r",p.r)
    .attr("fill",p.fill).attr("fill-opacity",p.fo)
    .attr("stroke",p.stroke).attr("stroke-opacity",0.4).attr("stroke-width",0.6);
  g.append("line").attr("x1",L).attr("x2",R).attr("y1",y(fdrCut)).attr("y2",y(fdrCut))
    .attr("stroke","#333").attr("stroke-width",1).attr("stroke-dasharray","4,3");
  g.append("rect").attr("x",L).attr("y",T).attr("width",R-L).attr("height",B-T)
    .attr("fill","none").attr("stroke","#b5b5b5").attr("stroke-width",1.2);
  const ax = g.append("g").attr("transform",`translate(0,${B})`).attr("color","#444")
    .call(d3.axisBottom(x).tickValues(p.xt).tickSize(3).tickPadding(3).tickFormat(d=>String(d)));
  ax.select(".domain").remove();
  ax.selectAll("line").attr("stroke","#666");
  ax.selectAll("text").attr("font-size",11.5).attr("fill","#333").attr("font-family",FONT);
  const ay = g.append("g").attr("transform",`translate(${L},0)`).attr("color","#444")
    .call(d3.axisLeft(y).tickValues(p.yt).tickSize(3).tickPadding(3).tickFormat(d=>String(d)));
  ay.select(".domain").remove();
  ay.selectAll("line").attr("stroke","#666");
  ay.selectAll("text").attr("font-size",11.5).attr("fill","#333").attr("font-family",FONT);
  g.append("text").attr("x",(L+R)/2).attr("y",T-9).attr("text-anchor","middle")
    .attr("font-size",16).attr("fill","#222").text(p.title);
  g.append("text").attr("x",L+10).attr("y",B-5).attr("font-size",11.5).attr("fill","#222").text("Hypo-methylated");
  g.append("text").attr("x",R-3).attr("y",B-5).attr("text-anchor","end").attr("font-size",11.5).attr("fill","#222").text("Hyper-methylated");
  g.append("g").selectAll("text").data(p.labels).join("text")
    .attr("x",d=>x(d[1])).attr("y",d=>y(d[2]))
    .attr("font-size",11).attr("font-style","italic").attr("fill","#222").text(d=>d[0]);
});

svg.append("text").attr("transform","translate(49,709) rotate(-90)").attr("text-anchor","middle")
  .attr("font-size",16).attr("fill","#222").text("-log10 (FDR)");
svg.append("text").attr("x",410).attr("y",1057).attr("text-anchor","middle")
  .attr("font-size",16).attr("fill","#222").text("log2FC");
</script></body></html>
